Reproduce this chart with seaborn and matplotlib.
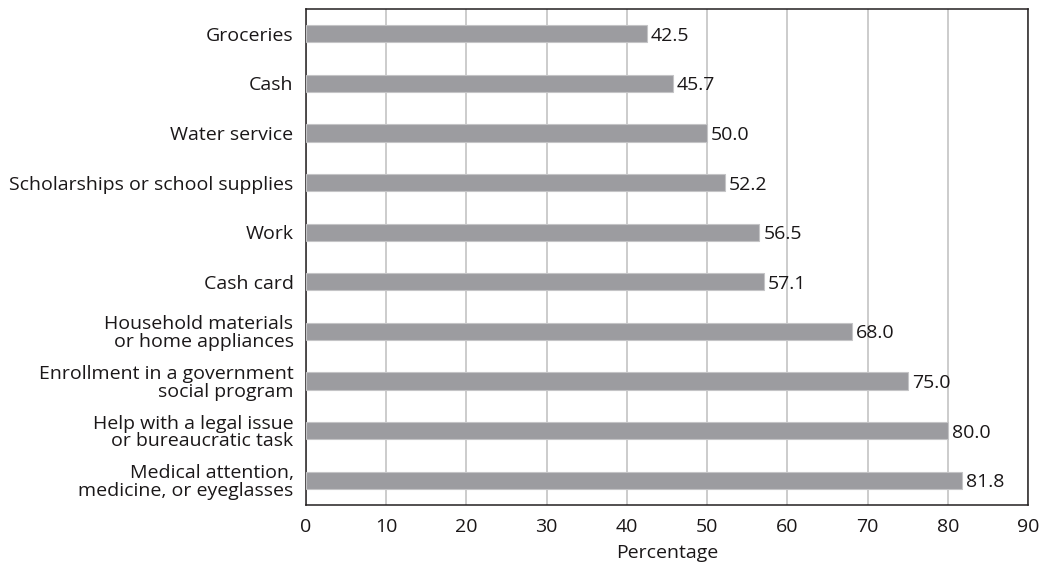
import matplotlib
matplotlib.use("Agg")
import matplotlib.pyplot as plt
import seaborn as sns
import pandas as pd
import numpy as np

categories = [
    "Groceries",
    "Cash",
    "Water service",
    "Scholarships or school supplies",
    "Work",
    "Cash card",
    "Household materials\nor home appliances",
    "Enrollment in a government\nsocial program",
    "Help with a legal issue\nor bureaucratic task",
    "Medical attention,\nmedicine, or eyeglasses",
]
values = [42.5, 45.7, 50.0, 52.2, 56.5, 57.1, 68.0, 75.0, 80.0, 81.8]
x_ticks = [0, 10, 20, 30, 40, 50, 60, 70, 80, 90]

df = pd.DataFrame({"category": categories, "value": values})

sns.set_theme(style="white")
plt.rcParams["font.family"] = ["Open Sans", "DejaVu Sans"]
text_color = "#1a1718"
fs = 14

fig = plt.figure(figsize=(10.45, 5.7), dpi=100)
ax = fig.add_axes([306 / 1045, 1 - 505 / 570, (1028 - 306) / 1045, (505 - 9) / 570])

sns.barplot(data=df, y="category", x="value", orient="h", color="#9c9ca0",
            width=0.35, saturation=1, edgecolor="#c4c4c6", linewidth=0.8,
            ax=ax, zorder=3)

ax.set_xlim(0, 90)
ax.set_ylim(len(categories) - 0.5, -0.5)
ax.set_xticks(x_ticks)
ax.set_xticklabels([str(t) for t in x_ticks], fontsize=fs, color=text_color)
ax.xaxis.grid(True, color="#c8c8c8", linewidth=1.3, zorder=0)
ax.yaxis.grid(False)

# category labels at row centres, tick marks at row boundaries
ax.set_yticks(np.arange(len(categories)))
ax.set_yticklabels(categories, fontsize=fs, color=text_color, linespacing=0.98)
ax.tick_params(axis="y", which="major", length=0, pad=9)
ax.set_yticks(np.arange(-0.5, len(categories), 1), minor=True)
ax.tick_params(axis="y", which="minor", length=6, width=1, color="#231f20", direction="out")
ax.tick_params(axis="x", length=6, width=1, color="#231f20", direction="out", pad=3)

for spine in ax.spines.values():
    spine.set_color("#231f20")
    spine.set_linewidth(1.1)

for i, v in enumerate(values):
    ax.text(v + 0.5, i + 0.04, f"{v:.1f}", va="center", ha="left",
            fontsize=fs, color=text_color, zorder=4)

ax.set_ylabel("")
ax.set_xlabel("Percentage", fontsize=fs, color=text_color, labelpad=6)

fig.savefig("out.png", dpi=100)
